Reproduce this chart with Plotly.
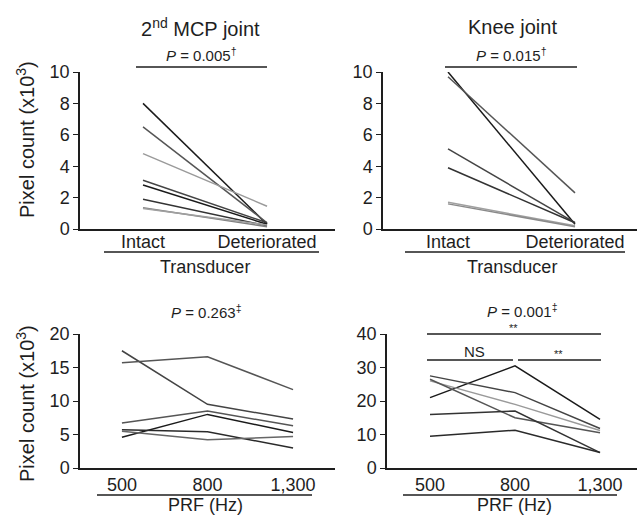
import plotly.graph_objects as go

W, H = 637, 515

# ---------------- data ----------------
transducer_cats = ["Intact", "Deteriorated"]
prf_cats = ["500", "800", "1,300"]

# each inner list = one subject across categories (pixel count, x10^3)
mcp_transducer = [
    [8.0, 0.3], [6.5, 0.4], [4.8, 1.45], [3.1, 0.4],
    [2.8, 0.3], [1.9, 0.2], [1.35, 0.15], [1.3, 0.25],
]
knee_transducer = [
    [10.0, 0.3], [9.7, 2.3], [5.1, 0.4], [3.9, 0.4],
    [1.7, 0.2], [1.6, 0.15],
]
mcp_prf = [
    [17.5, 9.5, 7.3], [15.7, 16.6, 11.7], [6.7, 8.5, 6.3],
    [4.6, 8.0, 5.3], [5.7, 5.4, 3.0], [5.5, 4.2, 4.7],
]
knee_prf = [
    [21.0, 30.5, 14.5], [27.5, 22.5, 11.8], [26.0, 19.0, 11.2],
    [26.5, 15.0, 10.5], [16.0, 17.0, 4.6], [9.5, 11.3, 4.6],
]

yticks_top = [0, 2, 4, 6, 8, 10]
yticks_mcp_prf = [0, 5, 10, 15, 20]
yticks_knee_prf = [0, 10, 20, 30, 40]

titles = ["2<sup>nd</sup> MCP joint", "Knee joint"]
p_texts = ["<i>P</i> = 0.005<sup>†</sup>", "<i>P</i> = 0.015<sup>†</sup>",
           "<i>P</i> = 0.263<sup>‡</sup>", "<i>P</i> = 0.001<sup>‡</sup>"]
ytitle = "Pixel count (x10<sup>3</sup>)"

# ---------------- styles ----------------
FONT = "Liberation Sans, Arial, sans-serif"
INK = "#1e1e1e"
col_mcp_t = ["#1a1a1a", "#555555", "#9a9a9a", "#444444", "#1a1a1a", "#333333", "#808080", "#a0a0a0"]
col_knee_t = ["#1a1a1a", "#555555", "#444444", "#333333", "#a0a0a0", "#8a8a8a"]
col_mcp_p = ["#444444", "#555555", "#555555", "#1a1a1a", "#2a2a2a", "#666666"]
col_knee_p = ["#1a1a1a", "#444444", "#9a9a9a", "#555555", "#333333", "#2a2a2a"]


def px(xp):
    return xp / W


def py(yp):
    return 1 - yp / H


fig = go.Figure()

panels = [
    (mcp_transducer, transducer_cats, col_mcp_t, ""),
    (knee_transducer, transducer_cats, col_knee_t, "2"),
    (mcp_prf, prf_cats, col_mcp_p, "3"),
    (knee_prf, prf_cats, col_knee_p, "4"),
]
for data, cats, cols, s in panels:
    for vals, c in zip(data, cols):
        fig.add_trace(go.Scatter(
            x=cats, y=vals, mode="lines",
            line=dict(color=c, width=1.5),
            xaxis="x" + s, yaxis="y" + s, showlegend=False, hoverinfo="skip",
        ))

# axis geometry (pixels)
geo = {
    "": dict(x0=80, x1=335, y0=229, y1=72, xr=[-0.508, 1.548], cats=transducer_cats,
             yr=[0, 10], yt=yticks_top, so=-4),
    "2": dict(x0=383, x1=637, y0=229, y1=72, xr=[-0.512, 1.488], cats=transducer_cats,
              yr=[0, 10], yt=yticks_top, so=-4),
    "3": dict(x0=80, x1=335, y0=468, y1=334, xr=[-0.49, 2.49], cats=prf_cats,
              yr=[0, 20], yt=yticks_mcp_prf, so=0),
    "4": dict(x0=387, x1=637, y0=468, y1=334, xr=[-0.506, 2.435], cats=prf_cats,
              yr=[0, 40], yt=yticks_knee_prf, so=0),
}
lay = {}
for s, g in geo.items():
    lay["xaxis" + s] = dict(
        domain=[px(g["x0"]), px(g["x1"])], anchor="y" + s, type="category",
        categoryorder="array", categoryarray=g["cats"], range=g["xr"],
        showline=True, linecolor=INK, linewidth=1.5, ticks="", ticklen=0,
        ticklabelstandoff=g["so"],
        showgrid=False, zeroline=False, automargin=False,
        tickfont=dict(size=18, color=INK, family=FONT),
    )
    lay["yaxis" + s] = dict(
        domain=[py(g["y0"]), py(g["y1"])], anchor="x" + s, range=g["yr"],
        tickvals=g["yt"], showline=True, linecolor=INK, linewidth=1.5,
        ticks="outside", ticklen=5, tickwidth=1.2, tickcolor=INK,
        showgrid=False, zeroline=False, automargin=False,
        tickfont=dict(size=18, color=INK, family=FONT),
    )

ann = []


def text(t, x, y, size, angle=0):
    ann.append(dict(text=t, x=px(x), y=py(y), xref="paper", yref="paper",
                    showarrow=False, textangle=angle, xanchor="center", yanchor="middle",
                    font=dict(size=size, color=INK, family=FONT)))


text(titles[0], 200, 27, 20)
text(titles[1], 512, 27, 20)
text(p_texts[0], 201, 55, 15)
text(p_texts[1], 511, 55, 15)
text(p_texts[2], 206, 311, 15)
text(p_texts[3], 522, 310, 15)
text("**", 513, 328, 11)
text("NS", 474, 351, 15)
text("**", 558, 354, 11)
text("Transducer", 205, 267, 18)
text("Transducer", 512, 267, 18)
text("PRF (Hz)", 205, 505, 18)
text("PRF (Hz)", 514, 505, 18)
text(ytitle, 25, 140, 20, -90)
text(ytitle, 25, 404, 20, -90)

shapes = []


def hline(x0, x1, y, w=1.5):
    shapes.append(dict(type="line", xref="paper", yref="paper",
                       x0=px(x0), x1=px(x1), y0=py(y), y1=py(y),
                       line=dict(color=INK, width=w)))


hline(136, 267, 67)
hline(445, 577, 67)
hline(104, 319, 252)
hline(405, 625, 252)
hline(97, 312, 495)
hline(403, 617, 495)
hline(427, 601, 334)
hline(427, 513, 360)
hline(518, 601, 360)

fig.update_layout(
    width=W, height=H, margin=dict(l=0, r=0, t=0, b=0, pad=0),
    paper_bgcolor="white", plot_bgcolor="white",
    font=dict(family=FONT, color=INK),
    annotations=ann, shapes=shapes, showlegend=False,
    **lay,
)

fig.write_html(
    "out.html",
    config={"displayModeBar": False},
    post_script="document.body.style.margin='0';document.body.style.overflow='hidden';",
)
